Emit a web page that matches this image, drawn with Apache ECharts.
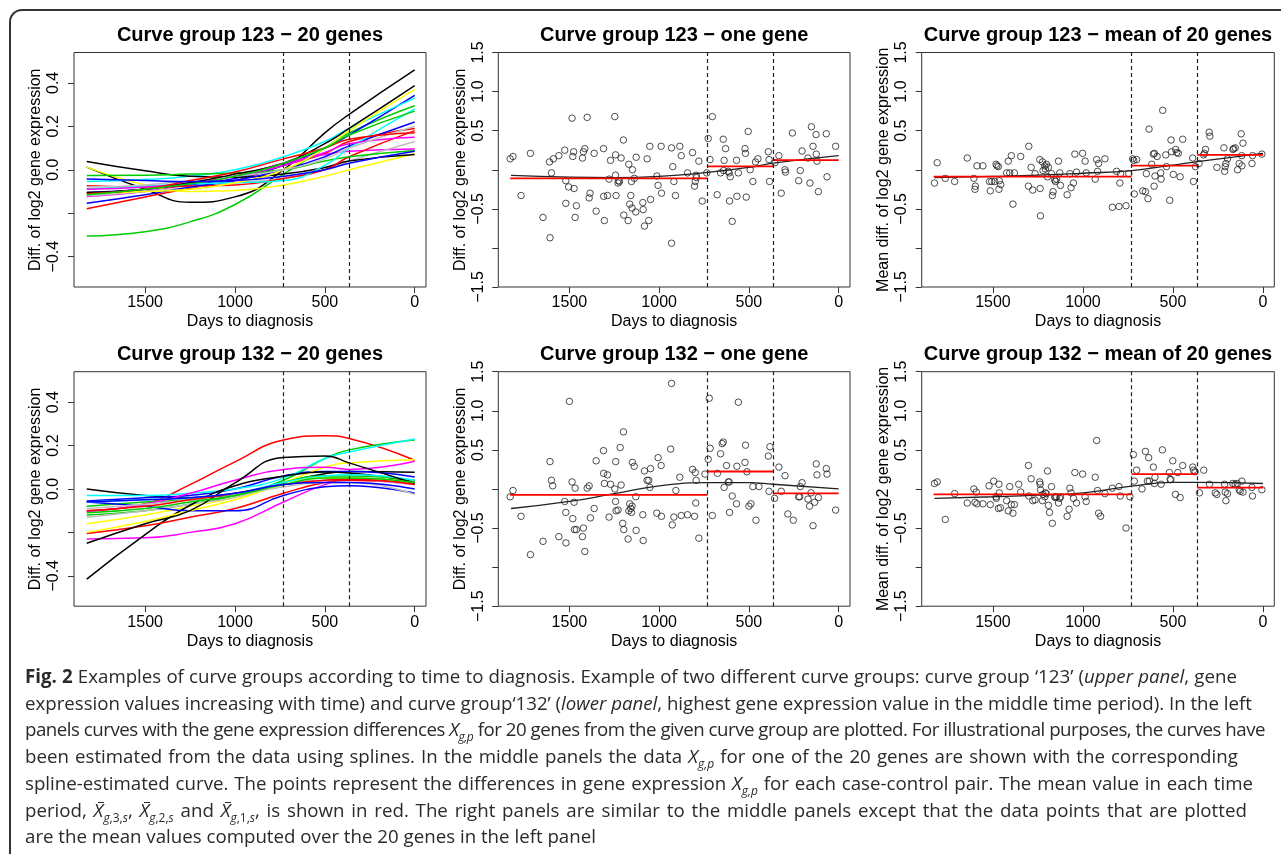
<!DOCTYPE html>
<html><head><meta charset="utf-8">
<script src="https://cdn.jsdelivr.net/npm/echarts@6.0.0/dist/echarts.min.js"></script>
<style>
html,body{margin:0;padding:0;background:#fff;}
#wrap{position:relative;width:1281px;height:854px;overflow:hidden;background:#fff;}
#chart{position:absolute;left:0;top:0;width:1281px;height:660px;}
#frame{position:absolute;left:9px;top:9px;width:1400px;height:1000px;border-left:2px solid #333;border-top:2px solid #333;border-top-left-radius:13px;pointer-events:none;}
#caption{position:absolute;left:25px;top:663px;font-family:"Open Sans",sans-serif;font-size:18.7px;line-height:26.7px;color:#2a2a2a;white-space:nowrap;}
#caption sub{font-size:12px;line-height:0;}
#caption .xb{position:relative;display:inline-block;line-height:1;font-style:italic;}
#caption .xb::before{content:'';position:absolute;left:4px;right:-1px;top:1px;border-top:1px solid #2a2a2a;}
</style></head>
<body>
<div id="wrap">
<div id="chart"></div>
<div id="frame"></div>
<div id="caption">
<div><span class="ln"><b>Fig. 2</b> Examples of curve groups according to time to diagnosis. Example of two different curve groups: curve group ‘123’ (<i>upper panel</i>, gene</span></div>
<div><span class="ln">expression values increasing with time) and curve group‘132’ (<i>lower panel</i>, highest gene expression value in the middle time period). In the left</span></div>
<div><span class="ln">panels curves with the gene expression differences <i>X</i><sub><i>g,p</i></sub> for 20 genes from the given curve group are plotted. For illustrational purposes, the curves have</span></div>
<div><span class="ln">been estimated from the data using splines. In the middle panels the data <i>X</i><sub><i>g,p</i></sub> for one of the 20 genes are shown with the corresponding</span></div>
<div><span class="ln">spline-estimated curve. The points represent the differences in gene expression <i>X</i><sub><i>g,p</i></sub> for each case-control pair. The mean value in each time</span></div>
<div><span class="ln">period, <span class="xb">X</span><sub><i>g</i>,3,<i>s</i></sub>, <span class="xb">X</span><sub><i>g</i>,2,<i>s</i></sub> and <span class="xb">X</span><sub><i>g</i>,1,<i>s</i></sub>, is shown in red. The right panels are similar to the middle panels except that the data points that are plotted</span></div>
<div><span class="ln">are the mean values computed over the 20 genes in the left panel</span></div>
</div>
</div>
<script>
// ---------- data ----------
const knotDays = [1825, 1500, 1250, 1000, 730, 500, 365, 0];
const periodBounds = [1830, 730, 365, 0];
const curveColors = ['#000000','#FF0000','#00CD00','#0000FF','#00FFFF','#FF00FF','#FFFF00','#BEBEBE',
                     '#000000','#FF0000','#00CD00','#0000FF','#00FFFF','#FF00FF','#FFFF00','#BEBEBE',
                     '#000000','#FF0000','#00CD00','#0000FF'];

const g123Curves = [
  [0.012, -0.09, -0.15, -0.125, 0.0, 0.17, 0.255, 0.46],
  [-0.18, -0.125, -0.085, -0.05, 0.02, 0.075, 0.13, 0.19],
  [-0.305, -0.285, -0.24, -0.16, -0.02, 0.1, 0.17, 0.295],
  [-0.105, -0.09, -0.07, -0.04, 0.02, 0.1, 0.16, 0.343],
  [-0.054, -0.045, -0.03, 0.0, 0.06, 0.13, 0.19, 0.33],
  [-0.123, -0.1, -0.065, -0.03, 0.03, 0.07, 0.085, 0.095],
  [0.012, -0.07, -0.1, -0.095, -0.07, -0.03, 0.0, 0.074],
  [-0.12, -0.1, -0.08, -0.06, -0.04, 0.0, 0.04, 0.13],
  [0.038, -0.005, -0.03, -0.035, -0.02, 0.01, 0.04, 0.07],
  [-0.074, -0.08, -0.075, -0.07, -0.04, 0.0, 0.06, 0.18],
  [-0.026, -0.025, -0.02, -0.015, 0.0, 0.04, 0.06, 0.089],
  [-0.154, -0.115, -0.08, -0.05, 0.0, 0.06, 0.11, 0.22],
  [-0.089, -0.075, -0.065, -0.06, -0.05, 0.02, 0.1, 0.28],
  [-0.09, -0.08, -0.06, -0.03, 0.02, 0.08, 0.12, 0.15],
  [-0.11, -0.1, -0.09, -0.06, 0.0, 0.1, 0.18, 0.37],
  [-0.08, -0.07, -0.05, -0.03, 0.0, 0.05, 0.1, 0.2],
  [-0.105, -0.09, -0.06, -0.02, 0.03, 0.12, 0.19, 0.388],
  [-0.11, -0.09, -0.05, -0.01, 0.05, 0.1, 0.14, 0.17],
  [-0.115, -0.09, -0.065, -0.03, 0.03, 0.1, 0.16, 0.27],
  [-0.043, -0.05, -0.055, -0.05, -0.03, 0.0, 0.03, 0.085]
];

const g132Curves = [
  [0.0, -0.03, -0.04, -0.03, 0.03, 0.07, 0.08, 0.077],
  [-0.1, -0.068, 0.02, 0.125, 0.225, 0.245, 0.232, 0.132],
  [-0.12, -0.1, -0.07, -0.03, 0.04, 0.14, 0.18, 0.225],
  [-0.055, -0.04, -0.03, 0.0, 0.06, 0.08, 0.08, 0.055],
  [-0.03, -0.03, -0.02, 0.0, 0.05, 0.14, 0.17, 0.23],
  [-0.23, -0.225, -0.2, -0.16, -0.06, 0.02, 0.04, 0.02],
  [-0.16, -0.12, -0.08, -0.04, 0.03, 0.1, 0.12, 0.135],
  [-0.13, -0.1, -0.07, -0.04, 0.02, 0.04, 0.04, 0.02],
  [-0.415, -0.21, -0.075, 0.015, 0.058, 0.078, 0.074, 0.032],
  [-0.205, -0.17, -0.13, -0.09, -0.02, 0.03, 0.04, 0.03],
  [-0.08, -0.06, -0.05, -0.03, 0.03, 0.06, 0.06, 0.04],
  [-0.06, -0.08, -0.1, -0.1, -0.03, 0.01, 0.015, -0.02],
  [-0.06, -0.05, -0.04, -0.02, 0.03, 0.06, 0.065, 0.04],
  [-0.105, -0.07, -0.02, 0.04, 0.09, 0.1, 0.09, 0.128],
  [-0.2, -0.15, -0.1, -0.05, 0.02, 0.05, 0.05, 0.03],
  [-0.09, -0.07, -0.05, -0.03, 0.01, 0.03, 0.03, -0.025],
  [-0.25, -0.16, -0.1, 0.028, 0.145, 0.152, 0.12, 0.025],
  [-0.1, -0.08, -0.05, -0.02, 0.02, 0.04, 0.045, 0.02],
  [-0.11, -0.09, -0.06, -0.03, 0.02, 0.05, 0.05, 0.03],
  [-0.06, -0.05, -0.04, -0.02, 0.02, 0.03, 0.03, 0.0]
];

const g123OnePoints = [[1830,0.14],[1814,0.17],[1769,-0.33],[1717,0.21],[1647,-0.61],[1608,-0.87],[1611,0.10],[1600,-0.04],[1589,0.14],[1559,0.18],[1526,0.25],[1520,-0.14],[1520,-0.43],[1504,-0.22],[1485,0.66],[1481,0.17],[1476,0.23],[1474,-0.24],[1468,-0.61],[1461,-0.46],[1427,0.15],[1422,0.23],[1414,0.27],[1401,0.67],[1390,-0.36],[1385,-0.30],[1362,0.21],[1351,-0.53],[1310,0.27],[1309,-0.34],[1305,-0.65],[1288,-0.33],[1279,-0.12],[1271,0.12],[1247,0.68],[1243,-0.07],[1243,0.19],[1240,-0.33],[1229,-0.17],[1227,-0.14],[1221,-0.15],[1212,0.15],[1199,0.38],[1197,-0.58],[1173,-0.65],[1169,0.07],[1164,-0.44],[1158,-0.33],[1154,-0.15],[1151,-0.49],[1149,0.00],[1138,-0.11],[1130,-0.54],[1128,0.16],[1091,-0.42],[1089,-0.51],[1082,-0.72],[1067,0.14],[1058,-0.65],[1052,0.30],[1048,-0.38],[1013,-0.08],[1006,-0.20],[989,0.30],[987,-0.30],[931,0.28],[931,-0.94],[924,0.04],[918,-0.15],[909,-0.33],[885,0.30],[877,0.18],[842,-0.04],[814,0.22],[803,-0.21],[799,-0.15],[794,-0.07],[792,-0.10],[779,0.11],[760,-0.40],[735,-0.04],[727,0.40],[717,0.13],[704,0.68],[677,-0.32],[658,-0.04],[643,0.39],[641,-0.01],[638,0.12],[630,0.27],[615,-0.02],[610,-0.04],[608,-0.40],[604,-0.09],[593,-0.66],[569,0.12],[567,-0.34],[559,-0.04],[522,0.27],[515,-0.35],[519,0.21],[504,0.49],[493,0.00],[478,-0.15],[463,0.10],[450,0.14],[392,0.23],[388,0.13],[385,-0.15],[355,0.09],[333,0.18],[320,-0.30],[299,0.00],[296,-0.03],[258,0.47],[223,-0.14],[214,-0.01],[204,0.24],[171,0.15],[160,-0.17],[152,0.55],[143,0.30],[126,0.45],[125,0.20],[121,0.11],[113,-0.28],[69,0.46],[65,-0.09],[17,0.30]];
const g123OneSpline = [-0.073, -0.094, -0.10, -0.085, -0.034, 0.03, 0.085, 0.18];
const g123OneMeans = [-0.11, 0.043, 0.124];

const g123MeanPoints = [[1825,-0.17],[1810,0.09],[1765,-0.11],[1713,-0.15],[1643,0.15],[1606,-0.11],[1600,-0.25],[1598,-0.21],[1589,0.05],[1556,0.05],[1515,-0.27],[1519,-0.15],[1507,-0.15],[1491,-0.15],[1483,0.07],[1478,0.05],[1470,0.04],[1467,-0.25],[1465,-0.14],[1457,-0.19],[1424,-0.04],[1415,0.11],[1407,-0.04],[1398,0.18],[1389,-0.44],[1381,-0.04],[1346,0.17],[1303,-0.21],[1301,0.30],[1288,0.03],[1279,-0.26],[1266,-0.05],[1240,0.13],[1238,-0.24],[1236,-0.59],[1225,0.10],[1222,-0.01],[1212,0.05],[1209,0.01],[1203,0.07],[1197,-0.09],[1192,0.03],[1175,-0.05],[1170,-0.33],[1166,-0.28],[1157,-0.13],[1153,-0.15],[1147,-0.12],[1136,0.11],[1129,-0.04],[1125,-0.20],[1088,-0.32],[1073,-0.05],[1066,-0.23],[1053,-0.17],[1045,0.20],[1036,-0.03],[1002,0.21],[988,0.11],[982,-0.04],[932,-0.12],[924,0.13],[919,-0.02],[913,0.08],[878,0.14],[837,-0.48],[800,-0.47],[761,-0.46],[813,-0.02],[795,-0.17],[791,-0.05],[746,-0.05],[724,0.14],[718,0.12],[715,-0.31],[702,0.13],[668,-0.27],[653,-0.28],[648,-0.05],[639,-0.37],[633,0.52],[609,0.20],[603,0.21],[605,-0.21],[600,-0.08],[618,0.07],[588,0.17],[568,-0.04],[566,-0.12],[557,0.76],[540,0.19],[536,0.04],[518,-0.39],[511,0.38],[508,0.23],[498,-0.06],[485,0.26],[479,0.22],[470,0.21],[460,-0.09],[446,0.39],[390,0.15],[386,-0.15],[375,0.04],[355,0.08],[330,0.19],[325,0.21],[319,0.26],[299,0.48],[295,0.43],[256,0.03],[217,0.28],[213,-0.02],[210,0.04],[206,0.08],[197,0.14],[167,0.26],[163,0.27],[154,0.28],[141,0.00],[132,0.08],[121,0.46],[118,0.18],[111,0.34],[117,0.05],[61,0.08],[58,0.18],[6,0.20]];
const g123MeanSpline = [-0.10, -0.085, -0.07, -0.045, -0.01, 0.06, 0.105, 0.21];
const g123MeanMeans = [-0.088, 0.053, 0.19];

const g132OnePoints = [[1830,-0.10],[1814,-0.02],[1769,-0.35],[1717,-0.84],[1647,-0.67],[1608,0.35],[1600,0.11],[1593,0.04],[1559,-0.61],[1526,-0.16],[1520,-0.30],[1519,-0.69],[1500,1.12],[1485,0.09],[1481,-0.38],[1474,-0.17],[1472,-0.52],[1468,0.01],[1461,-0.52],[1427,-0.61],[1422,-0.50],[1414,-0.80],[1401,0.01],[1390,0.04],[1383,-0.37],[1362,-0.25],[1351,0.36],[1310,0.49],[1309,0.20],[1305,0.07],[1288,0.18],[1279,-0.36],[1271,0.06],[1247,0.00],[1243,-0.16],[1242,0.35],[1240,-0.28],[1229,-0.27],[1217,0.53],[1212,0.05],[1203,-0.44],[1199,0.73],[1197,-0.52],[1173,-0.64],[1169,-0.28],[1164,-0.19],[1158,-0.25],[1154,-0.30],[1151,-0.22],[1149,0.34],[1139,0.29],[1130,-0.10],[1128,-0.53],[1091,-0.33],[1089,-0.66],[1082,0.23],[1067,0.11],[1058,0.11],[1052,0.02],[1048,0.26],[1013,-0.31],[1006,0.40],[989,0.30],[987,-0.35],[931,1.35],[936,0.51],[927,-0.46],[918,-0.36],[907,-0.02],[885,0.15],[877,-0.34],[842,-0.33],[814,0.25],[803,-0.35],[799,0.21],[794,0.11],[796,-0.18],[779,-0.63],[745,0.19],[727,0.38],[721,1.16],[716,0.52],[704,-0.34],[675,0.20],[658,0.45],[649,0.58],[643,0.60],[638,0.02],[625,0.30],[615,0.09],[610,0.09],[608,-0.30],[593,-0.09],[569,-0.19],[567,0.29],[559,1.11],[522,0.34],[519,0.56],[511,0.22],[500,-0.22],[489,-0.19],[478,0.03],[461,-0.40],[444,0.03],[392,0.42],[383,0.54],[388,-0.03],[357,-0.12],[333,0.28],[320,-0.03],[299,0.17],[283,-0.32],[253,-0.40],[223,-0.10],[217,-0.10],[214,0.03],[204,0.08],[171,-0.13],[162,-0.22],[154,-0.05],[143,-0.47],[134,-0.17],[125,0.32],[121,0.18],[113,-0.11],[69,0.26],[65,0.19],[17,-0.27]];
const g132OneSpline = [-0.25, -0.16, -0.06, 0.04, 0.08, 0.08, 0.06, 0.0];
const g132OneMeans = [-0.077, 0.223, -0.056];

const g132MeanPoints = [[1825,0.07],[1810,0.09],[1765,-0.39],[1713,-0.06],[1643,-0.18],[1606,0.00],[1600,-0.17],[1593,-0.04],[1589,-0.19],[1556,-0.19],[1522,0.04],[1515,-0.20],[1496,0.10],[1483,-0.10],[1481,-0.12],[1470,-0.25],[1467,0.06],[1465,-0.05],[1459,-0.24],[1424,-0.15],[1415,-0.28],[1407,0.03],[1398,-0.20],[1389,-0.31],[1381,-0.20],[1357,0.06],[1346,-0.04],[1303,0.30],[1301,-0.09],[1288,0.13],[1279,-0.15],[1266,-0.14],[1240,0.09],[1238,0.06],[1236,-0.01],[1225,-0.15],[1222,-0.07],[1212,-0.10],[1209,-0.05],[1203,-0.06],[1197,0.23],[1192,-0.21],[1186,-0.30],[1175,0.03],[1170,-0.44],[1157,-0.10],[1153,-0.11],[1147,-0.10],[1136,-0.18],[1129,-0.12],[1125,-0.10],[1088,-0.35],[1077,-0.26],[1073,0.01],[1066,-0.05],[1053,-0.12],[1045,0.21],[1036,-0.18],[1002,0.19],[988,-0.10],[982,-0.16],[932,0.15],[924,0.62],[919,-0.02],[913,-0.31],[902,-0.35],[878,-0.06],[837,0.01],[800,0.03],[793,-0.09],[761,-0.50],[739,-0.10],[720,0.44],[715,0.10],[702,0.24],[672,0.00],[653,0.48],[642,0.10],[635,0.40],[631,0.10],[609,0.28],[603,0.07],[600,0.15],[559,0.50],[566,0.06],[520,0.21],[516,0.12],[512,0.12],[501,0.36],[486,-0.07],[473,0.21],[460,-0.11],[446,0.30],[390,0.28],[386,0.24],[377,0.22],[353,-0.05],[329,0.24],[297,0.06],[265,-0.05],[256,-0.07],[213,0.06],[210,-0.04],[206,-0.15],[197,-0.06],[167,0.07],[154,0.06],[143,0.07],[132,-0.01],[126,-0.03],[117,0.10],[111,-0.04],[61,0.02],[58,-0.09],[6,-0.01]];
const g132MeanSpline = [-0.12, -0.10, -0.08, -0.05, 0.035, 0.085, 0.085, 0.07];
const g132MeanMeans = [-0.069, 0.189, 0.017];

const panelTitles = ['Curve group 123 \u2212 20 genes','Curve group 123 \u2212 one gene','Curve group 123 \u2212 mean of 20 genes',
                     'Curve group 132 \u2212 20 genes','Curve group 132 \u2212 one gene','Curve group 132 \u2212 mean of 20 genes'];
const yTitles = ['Diff. of log2 gene expression','Diff. of log2 gene expression','Mean diff. of log2 gene expression',
                 'Diff. of log2 gene expression','Diff. of log2 gene expression','Mean diff. of log2 gene expression'];
const xTitle = 'Days to diagnosis';
const xTicks = [0, 500, 1000, 1500];
const curveYTicks = [-0.4, -0.2, 0, 0.2, 0.4];
const curveYLabels = [-0.4, 0, 0.2, 0.4];
const pointYTicks = [-1.5, -1, -0.5, 0, 0.5, 1, 1.5];
const pointYLabels = [-1.5, -0.5, 0.5, 1, 1.5];

// ---------- layout ----------
const FONT = '"Liberation Sans", Arial, Helvetica, sans-serif';
const colLeft = [74, 498.3, 921.7];
const colWidth = [352, 351.7, 352.6];
const rowTop = [52.5, 371.7];
const rowHeight = 234.5;

const grids = [], xAxes = [], yAxes = [], series = [], graphics = [];
for (let p = 0; p < 6; p++) {
  const r = Math.floor(p / 3), c = p % 3;
  grids.push({left: colLeft[c], top: rowTop[r], width: colWidth[c], height: rowHeight,
              show: true, borderColor: '#333', borderWidth: 1, backgroundColor: 'transparent'});
  xAxes.push({
    type: 'value', gridIndex: p, inverse: true, min: -63, max: 1896, position: 'bottom',
    axisLine: {show: false, onZero: false}, splitLine: {show: false},
    axisTick: {show: true, length: 6, customValues: xTicks, lineStyle: {color: '#333', width: 1}},
    axisLabel: {customValues: xTicks, fontSize: 16, fontFamily: FONT, color: '#000', margin: 8,
                formatter: v => String(v)},
    name: xTitle, nameLocation: 'middle', nameGap: 27,
    nameTextStyle: {fontSize: 16, fontFamily: FONT, color: '#000'}
  });
  const isCurve = (c === 0);
  const ticks = isCurve ? curveYTicks : pointYTicks;
  const labs = isCurve ? curveYLabels : pointYLabels;
  yAxes.push({
    type: 'value', gridIndex: p, position: 'left',
    min: isCurve ? -0.54 : -1.5, max: isCurve ? 0.54 : 1.5,
    axisLine: {show: false, onZero: false}, splitLine: {show: false},
    axisTick: {show: true, length: 6, customValues: ticks, lineStyle: {color: '#333', width: 1}},
    axisLabel: {customValues: labs, rotate: 90, fontSize: 16, fontFamily: FONT, color: '#000', margin: 12,
                showMinLabel: true, showMaxLabel: true,
                formatter: v => Number(v).toFixed(1).replace('-', '\u2212')},
    name: yTitles[p], nameLocation: 'middle', nameGap: 30, nameRotate: 90,
    nameTextStyle: {fontSize: 16, fontFamily: FONT, color: '#000'}
  });
  graphics.push({type: 'text', x: colLeft[c] + colWidth[c] / 2, y: rowTop[r] - 17,
    style: {text: panelTitles[p], font: 'bold 20px ' + FONT, fill: '#000',
            align: 'center', verticalAlign: 'middle', textAlign: 'center', textVerticalAlign: 'middle'}});
}

const dashed = {
  silent: true, symbol: ['none', 'none'], label: {show: false}, animation: false,
  lineStyle: {color: '#222', type: [4, 3], width: 1.2},
  emphasis: {disabled: true},
  data: [{xAxis: periodBounds[1]}, {xAxis: periodBounds[2]}]
};

function addCurves(p, curves) {
  curves.forEach((vals, i) => {
    series.push({
      type: 'line', xAxisIndex: p, yAxisIndex: p, smooth: true, showSymbol: false, silent: true,
      animation: false, data: knotDays.map((d, k) => [d, vals[k]]),
      lineStyle: {color: curveColors[i], width: 1.5}, itemStyle: {color: curveColors[i]},
      markLine: i === curves.length - 1 ? dashed : undefined, z: 2
    });
  });
}
function addPoints(p, pts, spline, means) {
  series.push({
    type: 'scatter', xAxisIndex: p, yAxisIndex: p, data: pts, symbol: 'circle', symbolSize: 6.5,
    silent: true, animation: false,
    itemStyle: {color: 'rgba(0,0,0,0)', borderColor: '#222', borderWidth: 1}, markLine: dashed, z: 2
  });
  series.push({
    type: 'line', xAxisIndex: p, yAxisIndex: p, smooth: true, showSymbol: false, silent: true, animation: false,
    data: knotDays.map((d, k) => [d, spline[k]]), lineStyle: {color: '#222', width: 1.3}, z: 3
  });
  for (let k = 0; k < 3; k++) {
    series.push({
      type: 'line', xAxisIndex: p, yAxisIndex: p, showSymbol: false, silent: true, animation: false,
      data: [[periodBounds[k], means[k]], [periodBounds[k + 1], means[k]]],
      lineStyle: {color: '#FF0000', width: 1.8}, z: 4
    });
  }
}
addCurves(0, g123Curves);
addPoints(1, g123OnePoints, g123OneSpline, g123OneMeans);
addPoints(2, g123MeanPoints, g123MeanSpline, g123MeanMeans);
addCurves(3, g132Curves);
addPoints(4, g132OnePoints, g132OneSpline, g132OneMeans);
addPoints(5, g132MeanPoints, g132MeanSpline, g132MeanMeans);

const chart = echarts.init(document.getElementById('chart'), null, {renderer: 'canvas'});
chart.setOption({
  animation: false, backgroundColor: '#fff',
  grid: grids, xAxis: xAxes, yAxis: yAxes, series: series, graphic: graphics
});

// ---------- caption line fitting (target right edges of each caption line) ----------
const captionRightEdges = [1237, 1252, 1265, 1238, 1253, 1247, null];
document.querySelectorAll('#caption .ln').forEach((el, i) => {
  const target = captionRightEdges[i];
  if (target == null) return;
  const w = el.getBoundingClientRect().width;
  const delta = target - 25 - w;
  const text = el.textContent;
  if (delta < 0) {
    el.style.letterSpacing = (delta / text.length).toFixed(3) + 'px';
  } else {
    const spaces = (text.match(/ /g) || []).length;
    if (spaces > 0) el.style.wordSpacing = (delta / spaces).toFixed(2) + 'px';
  }
});
</script>
</body></html>
